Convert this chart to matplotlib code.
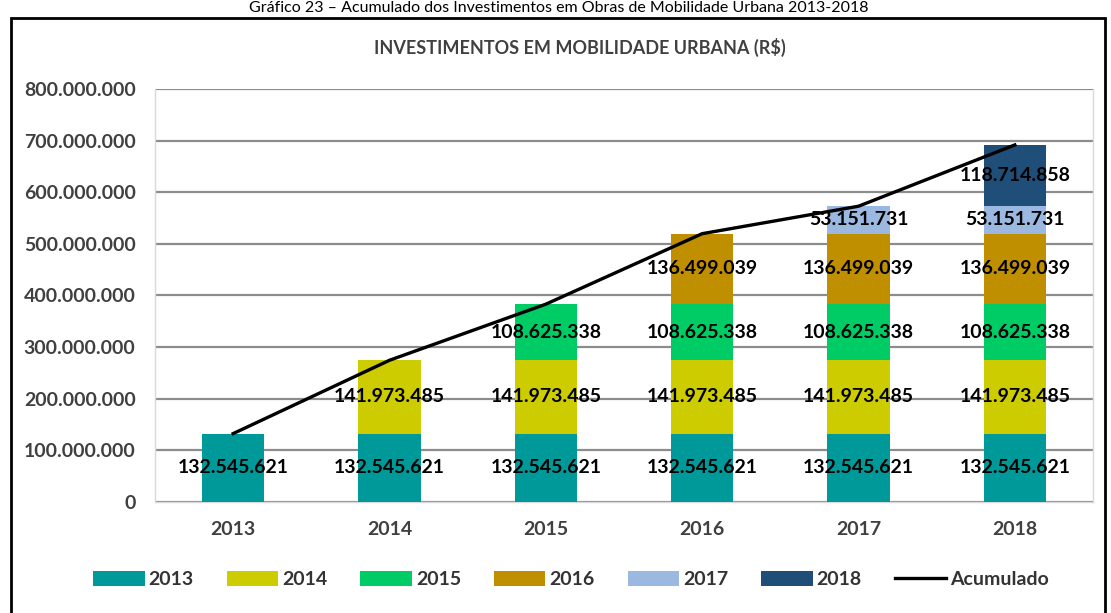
import numpy as np
import matplotlib.pyplot as plt
from matplotlib.patches import Rectangle, Patch
from matplotlib.lines import Line2D
from matplotlib.ticker import FuncFormatter

# dados (R$)
anos = ['2013', '2014', '2015', '2016', '2017', '2018']
invest_2013 = [132545621, 132545621, 132545621, 132545621, 132545621, 132545621]
invest_2014 = [0, 141973485, 141973485, 141973485, 141973485, 141973485]
invest_2015 = [0, 0, 108625338, 108625338, 108625338, 108625338]
invest_2016 = [0, 0, 0, 136499039, 136499039, 136499039]
invest_2017 = [0, 0, 0, 0, 53151731, 53151731]
invest_2018 = [0, 0, 0, 0, 0, 118714858]
series = [invest_2013, invest_2014, invest_2015, invest_2016, invest_2017, invest_2018]
cores = ['#009999', '#CCCC00', '#00CC66', '#BF8F00', '#9AB8E0', '#1F4E79']

acumulado = np.sum(np.array(series), axis=0)

def fmt_br(v):
    return f"{int(round(v)):,}".replace(',', '.')

plt.rcParams['font.family'] = ['Lato', 'DejaVu Sans']

fig = plt.figure(figsize=(11.11, 6.13), dpi=100)
ax = fig.add_axes([0.1395, 0.181, 0.8443, 0.674])

x = np.arange(len(anos))
base = np.zeros(len(anos))
for s, c in zip(series, cores):
    s = np.array(s, dtype=float)
    ax.bar(x, s, bottom=base, width=0.4, color=c, zorder=3)
    for xi, bi, vi in zip(x, base, s):
        if vi > 0:
            ax.text(xi, bi + vi / 2, fmt_br(vi), ha='center', va='center',
                    fontsize=14, fontweight='bold', color='black', zorder=5)
    base += s

ax.plot(x, acumulado, color='black', lw=2.4, zorder=4)

ax.set_ylim(0, 800000000)
ax.set_xlim(-0.5, len(anos) - 0.5)
ax.set_yticks(np.arange(0, 800000001, 100000000))
ax.yaxis.set_major_formatter(FuncFormatter(lambda v, p: fmt_br(v)))
ax.set_xticks(x)
ax.set_xticklabels(anos)
ax.tick_params(axis='both', length=0, labelcolor='#404040', labelsize=14)
ax.tick_params(axis='y', pad=14)
ax.tick_params(axis='x', pad=14)
for lbl in ax.get_xticklabels() + ax.get_yticklabels():
    lbl.set_fontweight('bold')
ax.grid(axis='y', color='#8C8C8C', lw=1.6, zorder=0)
for sp in ax.spines.values():
    sp.set_color('#D9D9D9')
    sp.set_linewidth(1)
ax.spines['top'].set_visible(False)

# moldura do grafico
fig.patches.append(Rectangle((0.0095, -0.05), 0.985, 1.02, transform=fig.transFigure,
                             fill=False, edgecolor='black', lw=2))

fig.text(0.522, 0.923, 'INVESTIMENTOS EM MOBILIDADE URBANA (R$)', ha='center', va='center',
         fontsize=13, fontweight='bold', color='#404040')
fig.text(0.503, 0.999, 'Gráfico 23 – Acumulado dos Investimentos em Obras de Mobilidade Urbana 2013-2018',
         ha='center', va='top', fontsize=11.5, color='black')

handles = [Patch(facecolor=c) for c in cores] + [Line2D([0], [0], color='black', lw=2.4)]
labels = anos + ['Acumulado']
leg = fig.legend(handles, labels, loc='center', bbox_to_anchor=(0.514, 0.054), ncol=7,
                 frameon=False, handlelength=2.65, handleheight=0.75, handletextpad=0.2,
                 columnspacing=1.7, prop={'size': 14, 'weight': 'bold'})
for t in leg.get_texts():
    t.set_color('#333333')

fig.savefig('out.png', dpi=100)
